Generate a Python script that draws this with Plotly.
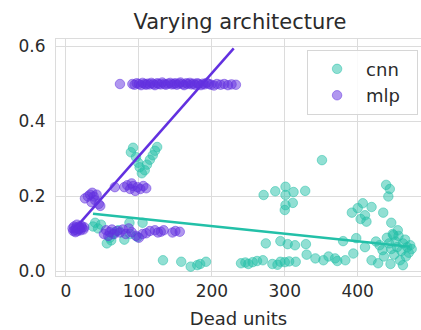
import plotly.graph_objects as go

# --- data -------------------------------------------------------------
cnn_x = [89, 92, 96, 99, 101, 104, 108, 111, 115, 119, 122, 125,
         37, 40, 44, 48, 56, 60, 64, 67, 72, 80, 87, 98, 105, 88, 62,
         133, 158, 171, 180, 184, 192, 240, 246, 250, 256, 262, 270, 283, 290, 294, 300, 306, 315,
         274, 294, 304, 314, 329, 330, 342, 353, 369, 383, 394, 380, 398, 410, 419, 428, 434,
         351, 271, 287, 301, 301, 312, 328, 301, 311, 300,
         439, 444, 442, 435, 446, 392, 400, 407, 410, 412, 419, 404,
         440, 443, 446, 448, 450, 452, 454, 456, 458, 460, 462, 462, 465, 466, 468, 470,
         472, 474, 455, 449, 436, 430, 425, 445, 360, 372]
cnn_y = [0.318, 0.330, 0.305, 0.290, 0.278, 0.262, 0.270, 0.285, 0.298, 0.310, 0.322, 0.332,
         0.120, 0.130, 0.115, 0.125, 0.075, 0.090, 0.100, 0.105, 0.110, 0.085, 0.130, 0.092, 0.130, 0.100, 0.083,
         0.030, 0.026, 0.013, 0.017, 0.020, 0.026, 0.022, 0.024, 0.020, 0.025, 0.028, 0.030, 0.020, 0.018, 0.026, 0.025, 0.027, 0.026,
         0.075, 0.081, 0.073, 0.070, 0.073, 0.045, 0.035, 0.030, 0.035, 0.030, 0.048, 0.081, 0.089, 0.065, 0.030, 0.022, 0.057,
         0.297, 0.204, 0.214, 0.226, 0.204, 0.212, 0.215, 0.177, 0.183, 0.164,
         0.231, 0.220, 0.200, 0.157, 0.130, 0.157, 0.169, 0.182, 0.150, 0.133, 0.172, 0.140,
         0.090, 0.075, 0.060, 0.100, 0.045, 0.080, 0.065, 0.095, 0.030, 0.055, 0.017, 0.075, 0.085, 0.040, 0.065, 0.050,
         0.070, 0.060, 0.110, 0.097, 0.040, 0.070, 0.080, 0.020, 0.040, 0.028]

mlp_x = [9, 11, 12, 14, 15, 16, 17, 18, 19, 20, 21, 22, 24, 13, 25, 10,
         26, 30, 33, 36, 38, 40, 42, 35, 45, 47,
         67, 80, 84, 88, 92, 95, 98, 102, 106, 110, 90,
         52, 55, 58, 60, 63, 66, 70, 74, 78, 82, 86, 90, 96, 100, 105, 110, 115, 122, 126, 130, 134, 146, 150, 156,
         74, 91, 94, 97, 100, 103, 105, 108, 110, 112, 115, 117, 120, 122, 125, 127, 130, 132, 135, 137,
         140, 143, 145, 148, 150, 152, 155, 157, 160, 162, 165, 167, 170, 172, 175, 177, 180, 182, 185,
         188, 190, 193, 196, 199, 203, 207, 212, 217, 222, 227, 233]
mlp_y = [0.115, 0.120, 0.110, 0.117, 0.125, 0.108, 0.113, 0.120, 0.115, 0.110, 0.122, 0.117, 0.112, 0.105, 0.118, 0.108,
         0.195, 0.200, 0.205, 0.210, 0.200, 0.190, 0.205, 0.185, 0.180, 0.175,
         0.225, 0.225, 0.230, 0.220, 0.228, 0.215, 0.225, 0.220, 0.228, 0.222, 0.235,
         0.100, 0.110, 0.095, 0.105, 0.112, 0.100, 0.108, 0.104, 0.112, 0.100, 0.115, 0.105, 0.095, 0.090, 0.100, 0.102, 0.108, 0.110, 0.104, 0.106, 0.110, 0.104, 0.108, 0.106,
         0.500, 0.500, 0.498, 0.502, 0.500, 0.497, 0.503, 0.500, 0.498, 0.501, 0.499, 0.503, 0.500, 0.497, 0.502, 0.500, 0.499, 0.504, 0.500, 0.498,
         0.501, 0.503, 0.499, 0.500, 0.502, 0.498, 0.501, 0.504, 0.500, 0.497, 0.502, 0.500, 0.503, 0.499, 0.501, 0.498, 0.502, 0.500, 0.497,
         0.501, 0.499, 0.503, 0.500, 0.498, 0.496, 0.500, 0.498, 0.500, 0.497, 0.499, 0.498]

# fitted regression lines (endpoints over each group's x span)
cnn_fit_x = [37, 472]
cnn_fit_y = [0.154, 0.066]
mlp_fit_x = [8, 230]
mlp_fit_y = [0.105, 0.595]

x_ticks = [0, 100, 200, 300, 400]
y_ticks = [0.0, 0.2, 0.4, 0.6]

# --- styling ----------------------------------------------------------
TEAL = (35, 192, 168)
PURPLE = (98, 48, 224)
FONT = "DejaVu Sans"
GRID = "#dcdcdc"
PAD = "\u00a0\u00a0"  # keeps some room to the right of legend labels


def rgba(c, a):
    return f"rgba({c[0]},{c[1]},{c[2]},{a})"


fig = go.Figure()

for name, xs, ys, col in [("cnn", cnn_x, cnn_y, TEAL), ("mlp", mlp_x, mlp_y, PURPLE)]:
    fig.add_trace(go.Scatter(
        x=xs, y=ys, mode="markers", name=name + PAD,
        marker=dict(size=9.5, color=rgba(col, 0.5),
                    line=dict(width=1, color=rgba(col, 0.5))),
    ))

for xs, ys, col in [(cnn_fit_x, cnn_fit_y, TEAL), (mlp_fit_x, mlp_fit_y, PURPLE)]:
    fig.add_trace(go.Scatter(
        x=xs, y=ys, mode="lines", showlegend=False, hoverinfo="skip",
        line=dict(width=2.5, color=rgba(col, 1)),
    ))

fig.update_layout(
    width=421, height=330,
    margin=dict(l=56, r=0, t=39, b=54),
    paper_bgcolor="white", plot_bgcolor="white",
    font=dict(family=FONT, color="#2b2b2b", size=17),
    title=dict(text="Varying architecture", x=0.57, xanchor="center",
               y=1 - 22 / 330, yanchor="middle",
               font=dict(size=21, color="#2b2b2b")),
    legend=dict(x=0.992, xanchor="right", y=0.955, yanchor="top",
                bgcolor="rgba(255,255,255,0.85)", bordercolor="#d6d6d6",
                borderwidth=1, font=dict(size=18), itemwidth=48),
    showlegend=True,
)

fig.update_xaxes(
    range=[-13.7, 486.8], tickvals=x_ticks, ticktext=[str(v) for v in x_ticks],
    showgrid=True, gridcolor=GRID, gridwidth=1, zeroline=False,
    showline=True, linecolor=GRID, linewidth=1, mirror=True,
    ticks="", title=dict(text="Dead units", font=dict(size=18), standoff=11),
)
fig.update_yaxes(
    range=[-0.012, 0.62], tickvals=y_ticks, ticktext=[f"{v:.1f}" for v in y_ticks],
    showgrid=True, gridcolor=GRID, gridwidth=1, zeroline=False,
    showline=True, linecolor=GRID, linewidth=1, mirror=True,
    ticks="", ticklabelstandoff=6,
)

fig.write_html("out.html")
